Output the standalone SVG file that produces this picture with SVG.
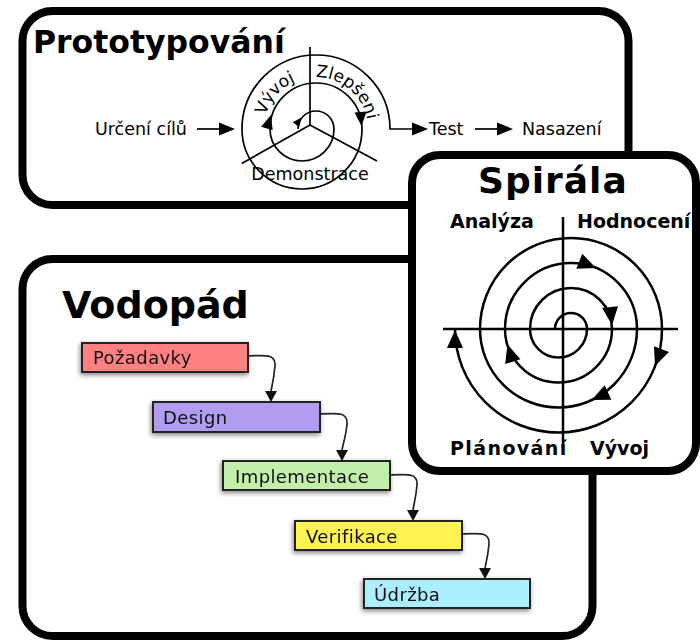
<svg xmlns="http://www.w3.org/2000/svg" width="700" height="641" viewBox="0 0 700 641">
<defs>
<style>
.frame{fill:#fff;stroke:#000;stroke-width:8}
.title{font-family:"DejaVu Sans",sans-serif;font-weight:bold;fill:#000}
.lbl{font-family:"DejaVu Sans",sans-serif;font-size:17.5px;fill:#000}
.blbl{font-family:"DejaVu Sans",sans-serif;font-weight:bold;font-size:19px;fill:#000}
.thin{fill:none;stroke:#000;stroke-width:1.7}
.thick{fill:none;stroke:#000;stroke-width:2.5}
.head{fill:#000;stroke:none}
.box{stroke:#222;stroke-width:2}
.btxt{font-family:"DejaVu Sans",sans-serif;font-size:18px;letter-spacing:0.4px;fill:#111}
.conn{fill:none;stroke:#222;stroke-width:1.7}
</style>
<filter id="sh" x="-20%" y="-50%" width="140%" height="200%">
<feGaussianBlur in="SourceAlpha" stdDeviation="2.5" result="bl"/>
<feOffset in="bl" dx="-1" dy="2" result="of"/>
<feComponentTransfer in="of" result="sd"><feFuncA type="linear" slope="0.5"/></feComponentTransfer>
<feMerge><feMergeNode in="sd"/><feMergeNode in="SourceGraphic"/></feMerge>
</filter>
<marker id="ah" markerWidth="12" markerHeight="11" viewBox="0 0 12 11" refX="6" refY="0" orient="0" markerUnits="userSpaceOnUse"><path d="M0,0 L12,0 L6,11 Z" fill="#111"/></marker>
<path id="tri" d="M0,0 L-18,-8 L-18,8 Z"/>
<path id="tri2" d="M0,0 L-14,-6 L-14,6 Z"/>
<path id="tri3" d="M0,0 L-9,-4 L-9,4 Z"/>
<path id="tri4" d="M0,0 L-16,-6.5 L-16,6.5 Z"/>
<path id="pv" d="M264,129 A52,52 0 0 1 316,77"/>
<path id="pz" d="M316,77 A52,52 0 0 1 368,129"/>
</defs>

<g id="prototypovani">
<rect class="frame" x="22.5" y="11" width="606" height="194" rx="30"/>
<text class="title" x="33" y="53" font-size="31.5">Prototypování</text>
<text class="lbl" x="95" y="135">Určení cílů</text>
<line class="thin" x1="197" y1="129" x2="222" y2="129"/>
<use href="#tri4" class="head" transform="translate(235,129)"/>
<line class="thin" x1="310" y1="125" x2="310" y2="47"/>
<line class="thin" x1="310" y1="125" x2="241.7" y2="163.5"/>
<line class="thin" x1="310" y1="125" x2="377" y2="161"/>
<path class="thin" d="M298,129 A18,18 0 0 1 334,129 A32,32 0 0 1 270,129 A46,46 0 0 1 362,129 A60,60 0 0 1 242,129 A74,74 0 0 1 390,129 L414,129"/>
<use href="#tri4" class="head" transform="translate(428,129)"/>
<use href="#tri3" class="head" transform="translate(301.5,117.5) rotate(308)"/>
<use href="#tri2" class="head" transform="translate(271,115) rotate(287)"/>
<use href="#tri2" class="head" transform="translate(361.5,126) rotate(86)"/>
<text class="lbl" style="font-size:17px"><textPath href="#pv" startOffset="37" text-anchor="middle">Vývoj</textPath></text>
<text class="lbl" style="font-size:17px"><textPath href="#pz" startOffset="36" text-anchor="middle">Zlepšeni</textPath></text>
<text class="lbl" x="310" y="180" text-anchor="middle">Demonstrace</text>
<text class="lbl" x="429" y="135">Test</text>
<line class="thin" x1="475" y1="129" x2="499" y2="129"/>
<use href="#tri4" class="head" transform="translate(513,129)"/>
<text class="lbl" x="522" y="135">Nasazení</text>
</g>

<g id="vodopad">
<rect class="frame" x="22.5" y="259" width="570" height="377" rx="30"/>
<text class="title" x="62" y="318" font-size="38">Vodopád</text>
</g>

<g id="pozadavky" filter="url(#sh)">
<rect class="box" x="82" y="343" width="166" height="29" fill="#ff8080"/>
<text class="btxt" x="93" y="363.5">Požadavky</text>
</g>
<g id="design" filter="url(#sh)">
<rect class="box" x="153" y="402" width="167" height="30" fill="#b19cf0"/>
<text class="btxt" x="163" y="423.5">Design</text>
</g>
<g id="implementace" filter="url(#sh)">
<rect class="box" x="223" y="461" width="167" height="29" fill="#c4efaa"/>
<text class="btxt" x="235" y="483">Implementace</text>
</g>
<g id="verifikace" filter="url(#sh)">
<rect class="box" x="295" y="521" width="167" height="29" fill="#fff352"/>
<text class="btxt" x="306" y="543">Verifikace</text>
</g>
<g id="udrzba" filter="url(#sh)">
<rect class="box" x="364" y="579" width="166" height="29" fill="#aaeeff"/>
<text class="btxt" x="374" y="600.5">Údržba</text>
</g>

<g id="connectors">
<path class="conn" marker-end="url(#ah)" d="M248,356 C266,355 276,354 275,366 C274,378 272,386 271,391"/>
<path class="conn" marker-end="url(#ah)" d="M320,414 C338,413 348,412 347,424 C346,436 343,444 342,450"/>
<path class="conn" marker-end="url(#ah)" d="M390,475 C408,474 418,473 417,485 C416,497 414,504 413,510"/>
<path class="conn" marker-end="url(#ah)" d="M462,534 C480,533 490,532 489,544 C488,556 486,563 485,568"/>
</g>

<g id="spirala">
<rect class="frame" x="412" y="155" width="284" height="316" rx="28"/>
<text class="title" x="478" y="193" font-size="36" letter-spacing="1">Spirála</text>
<text class="blbl" x="450" y="228">Analýza</text>
<text class="blbl" x="577" y="228">Hodnocení</text>
<line class="thick" x1="563" y1="217" x2="563" y2="448"/>
<line class="thick" x1="443" y1="329" x2="678" y2="329"/>
<path class="thick" d="M555,329 A16,16 0 0 1 587,329 A28.5,28.5 0 0 1 530,329 A41,41 0 0 1 612,329 A53.5,53.5 0 0 1 505,329 A66,66 0 0 1 637,329 A78.5,78.5 0 0 1 480,329 A91,91 0 0 1 662,329 A103.5,103.5 0 0 1 455,329"/>
<use href="#tri" class="head" transform="translate(596,268) rotate(22)"/>
<use href="#tri" class="head" transform="translate(612,325) rotate(84)"/>
<use href="#tri" class="head" transform="translate(655,366) rotate(111)"/>
<use href="#tri" class="head" transform="translate(591.7,400.1) rotate(155)"/>
<use href="#tri" class="head" transform="translate(507.5,344.5) rotate(253)"/>
<use href="#tri" class="head" transform="translate(455,330) rotate(-90)"/>
<text class="blbl" x="450" y="455" letter-spacing="1.4">Plánování</text>
<text class="blbl" x="590" y="455">Vývoj</text>
</g>
</svg>
